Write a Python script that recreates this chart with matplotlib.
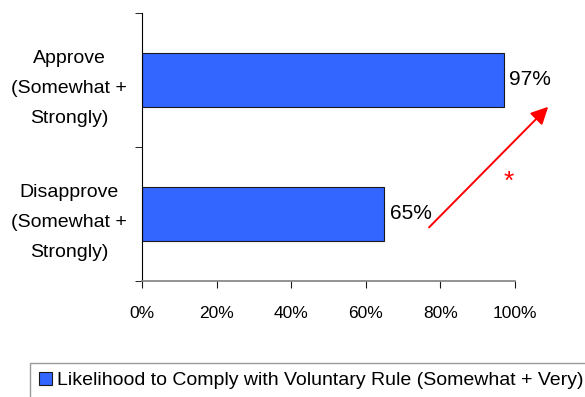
import numpy as np
import matplotlib
matplotlib.use("Agg")
import matplotlib.pyplot as plt
import matplotlib.patches as mpatches
import matplotlib.ticker as ticker

plt.rcParams['font.family'] = ['Liberation Sans', 'DejaVu Sans']

# data
categories = ['Disapprove\n(Somewhat +\nStrongly)', 'Approve\n(Somewhat +\nStrongly)']
values = [0.65, 0.97]
series_name = 'Likelihood to Comply with Voluntary Rule (Somewhat + Very)'
x_ticks = [0.0, 0.2, 0.4, 0.6, 0.8, 1.0]

BAR_COLOR = '#3366FF'
FONT_SIZE = 14

fig = plt.figure(figsize=(5.85, 3.97), dpi=100)
ax = fig.add_axes([0.2432, 0.2922, 0.6366, 0.6751])

y_pos = np.arange(len(categories))
ax.barh(y_pos, values, height=0.4, color=BAR_COLOR, edgecolor='#1a1a1a',
        linewidth=0.8, zorder=2)

for y, v in zip(y_pos, values):
    ax.annotate(f"{v:.0%}", xy=(v, y), xytext=(4, 0), textcoords='offset points',
                ha='left', va='center', fontsize=15, color='black')

# red arrow from lower value to higher value, with significance marker
lo, hi = values[0], values[1]
ax.annotate('', xy=(hi + 0.12, 0.80), xytext=(lo + 0.12, -0.10),
            arrowprops=dict(arrowstyle='-|>', color='red', lw=1.4,
                            mutation_scale=26, shrinkA=0, shrinkB=0),
            annotation_clip=False)
ax.text(hi + 0.015, 0.24, '*', color='red', fontsize=19, ha='center', va='center')

ax.set_xlim(0, 1)
ax.set_ylim(-0.5, 1.5)
ax.set_xticks(x_ticks)
ax.xaxis.set_major_formatter(ticker.FuncFormatter(lambda x, pos: f"{x:.0%}"))
ax.tick_params(axis='x', direction='out', length=5, pad=13, labelsize=12.5,
               color='#1a1a1a')

ax.set_yticks(y_pos)
ax.set_yticklabels(categories, multialignment='center', linespacing=2.0)
ax.set_yticks([-0.5, 0.5, 1.5], minor=True)
ax.tick_params(axis='y', which='major', length=0, pad=11, labelsize=FONT_SIZE)
ax.tick_params(axis='y', which='minor', length=5, direction='out', color='black')

ax.spines['top'].set_visible(False)
ax.spines['right'].set_visible(False)
ax.spines['left'].set_color('black')
ax.spines['bottom'].set_color('#808080')
ax.spines['bottom'].set_linewidth(1.2)

handle = mpatches.Patch(facecolor=BAR_COLOR, edgecolor='#1a1a1a', linewidth=0.8)
leg = fig.legend([handle], [series_name], loc='upper left',
                 bbox_to_anchor=(30 / 585, 1 - 363 / 397), fontsize=FONT_SIZE,
                 frameon=True, fancybox=False, edgecolor='#808080',
                 handlelength=0.7, handleheight=0.7, handletextpad=0.25,
                 borderpad=0.45, borderaxespad=0)
leg.get_frame().set_linewidth(1.0)

fig.savefig('out.png', dpi=100)
